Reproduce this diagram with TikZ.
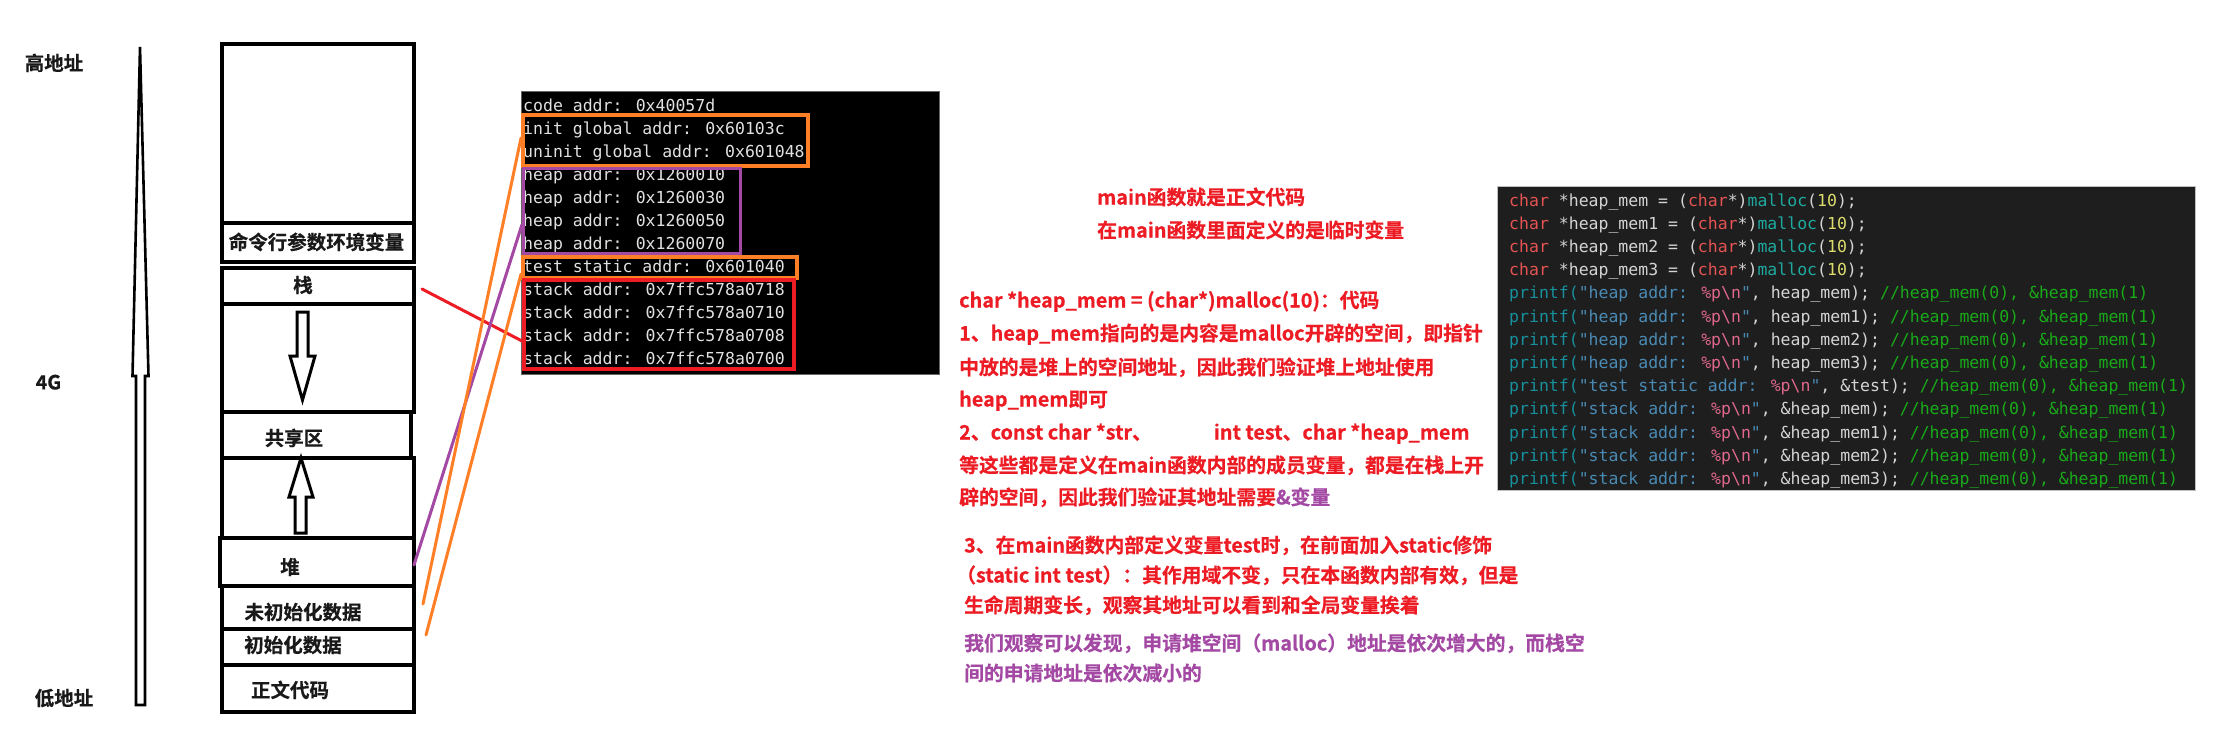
\documentclass[tikz,border=0pt]{standalone}
\usepackage{fontspec}
\newfontfamily\cjkb{Noto Sans CJK SC Bold}[FakeBold=0.5]
\newfontfamily\monof{DejaVu Sans Mono}
\definecolor{tred}{RGB}{237,28,36}
\definecolor{tpurple}{RGB}{163,73,164}
\definecolor{lorange}{RGB}{255,127,39}
\definecolor{labc}{RGB}{25,25,25}
\definecolor{termfg}{RGB}{225,225,225}
\definecolor{codebg}{RGB}{30,30,30}
\definecolor{codefg}{RGB}{212,212,212}
\definecolor{ckw}{RGB}{229,83,83}
\definecolor{cfn}{RGB}{30,170,160}
\definecolor{cnum}{RGB}{220,220,110}
\definecolor{cpf}{RGB}{24,143,156}
\definecolor{cstr}{RGB}{74,139,181}
\definecolor{cfmt}{RGB}{224,104,140}
\definecolor{ccm}{RGB}{25,170,25}
\newcommand\Kw[1]{\textcolor{ckw}{#1}}
\newcommand\Fn[1]{\textcolor{cfn}{#1}}
\newcommand\Nm[1]{\textcolor{cnum}{#1}}
\newcommand\Pf{\textcolor{cpf}{printf(}}
\newcommand\St[1]{\textcolor{cstr}{#1}}
\newcommand\Fm{\textcolor{cfmt}{\%p\textbackslash n}}
\newcommand\Cm{\textcolor{ccm}{//heap\_mem(0), \&heap\_mem(1)}}
\begin{document}
\begin{tikzpicture}[x=1pt,y=-1pt,
  seg/.style={draw=black, line width=4pt, minimum width=192pt, inner sep=0pt, anchor=north west, fill=white},
  lab/.style={font=\cjkb\fontsize{19.5}{22}\selectfont, text=labc, inner sep=0pt, text height=14.8pt, text depth=0pt},
  rtx/.style={font=\cjkb\fontsize{19.8}{24}\selectfont, text=tred, anchor=west, inner sep=0pt, text height=15pt, text depth=0pt},
  ptx/.style={rtx, text=tpurple},
  termln/.style={font=\monof\fontsize{16.5}{20}\selectfont, text=termfg, anchor=west, inner sep=0pt, text height=12pt, text depth=0pt},
  codeln/.style={font=\monof\fontsize{16.5}{20}\selectfont, text=codefg, anchor=west, inner sep=0pt, text height=12pt, text depth=0pt},
  hl/.style={draw=#1, anchor=north west, inner sep=0pt},
  conn/.style={line width=3pt, line cap=round},
  blockarrow/.style={draw=black, line width=3pt, fill=white, line join=miter}]
\useasboundingbox[fill=white] (0,0) rectangle (2231,740);

% ---------- address axis ----------
\draw[blockarrow, line width=2.6pt] (140,47) -- (132.5,376) -- (136,376) -- (136,705) -- (145,705) -- (145,376) -- (148.5,376) -- cycle;
\node[lab] (hiaddr) at (54,63) {高地址};
\node[lab] (fourg) at (48.5,382) {4G};
\node[lab] (loaddr) at (64,698) {低地址};

% ---------- memory layout ----------
\node[seg, minimum height=179pt] (topseg) at (220,41.5) {};
\node[seg, minimum height=39.5pt] (cmdseg) at (220,220.5) {};
\node[seg, minimum height=36pt] (stkseg) at (220,266) {};
\node[seg, minimum height=108pt] (sgap) at (220,302) {};
\node[seg, minimum width=189pt, minimum height=46pt] (shrseg) at (220,410) {};
\node[seg, minimum height=80pt] (hgap) at (220,456) {};
\node[seg, minimum width=194pt, minimum height=48pt] (heapseg) at (218,536) {};
\node[seg, minimum height=43pt] (bssseg) at (220,584) {};
\node[seg, minimum height=36pt] (dataseg) at (220,627) {};
\node[seg, minimum height=47pt] (codeseg) at (220,663) {};

\node[lab] (lcmd) at (316.5,242) {命令行参数环境变量};
\node[lab] (lstk) at (303,285) {栈};
\node[lab] (lshr) at (294,438) {共享区};
\node[lab] (lheap) at (290,567) {堆};
\node[lab] (lbss) at (303,612) {未初始化数据};
\node[lab] (ldata) at (293,645) {初始化数据};
\node[lab] (lcode) at (290,690) {正文代码};

% growth arrows
\draw[blockarrow] (297,312) -- (308,312) -- (308,356) -- (315,356) -- (302.5,400) -- (290,356) -- (297,356) -- cycle;
\draw[blockarrow] (301,458) -- (313,497) -- (306,497) -- (306,533) -- (295,533) -- (295,497) -- (289,497) -- cycle;

% ---------- terminal output ----------
\node[fill=black, draw=black!60, line width=1pt, anchor=north west, minimum width=418pt, minimum height=283pt, inner sep=0pt] (term) at (521,91) {};
\node[termln] (t1) at (523,105) {code addr: 0x40057d};
\node[termln] (t2) at (523,128.05) {init global addr: 0x60103c};
\node[termln] (t3) at (523,151.1) {uninit global addr: 0x601048};
\node[termln] (t4) at (523,174.15) {heap addr: 0x1260010};
\node[termln] (t5) at (523,197.2) {heap addr: 0x1260030};
\node[termln] (t6) at (523,220.25) {heap addr: 0x1260050};
\node[termln] (t7) at (523,243.3) {heap addr: 0x1260070};
\node[termln] (t8) at (523,266.35) {test static addr: 0x601040};
\node[termln] (t9) at (523,289.4) {stack addr: 0x7ffc578a0718};
\node[termln] (t10) at (523,312.45) {stack addr: 0x7ffc578a0710};
\node[termln] (t11) at (523,335.5) {stack addr: 0x7ffc578a0708};
\node[termln] (t12) at (523,358.55) {stack addr: 0x7ffc578a0700};

\node[hl=lorange, line width=4pt, minimum width=285pt, minimum height=51pt] (gbox) at (521,113) {};
\node[hl=tpurple, line width=3pt, minimum width=217pt, minimum height=85pt] (hbox) at (522,167) {};
\node[hl=lorange, line width=4pt, minimum width=274pt, minimum height=21pt] (sbox) at (521,255) {};
\node[hl=tred, line width=4pt, minimum width=270pt, minimum height=89pt] (kbox) at (522,278) {};

% ---------- connectors ----------
\coordinate (pstk) at (422,289);
\coordinate (pheap) at (414,565);
\coordinate (pbss) at (423,604);
\coordinate (pdata) at (426,635);
\draw[conn, tred] (pstk) -- ([yshift=-16.5pt]kbox.west);
\draw[conn, tpurple] (pheap) -- ([yshift=-13.5pt]hbox.west);
\draw[conn, lorange] (pbss) -- ([yshift=2.5pt]gbox.west);
\draw[conn, lorange] (pdata) -- ([yshift=-6.5pt]sbox.west);

% ---------- explanation text ----------
\node[rtx] (m1) at (1097,197) {main函数就是正文代码};
\node[rtx] (m2) at (1097,230) {在main函数里面定义的是临时变量};
\node[rtx] (b1) at (959,300) {char *heap\_mem = (char*)malloc(10)：代码};
\node[rtx] (b2) at (959,333) {1、heap\_mem指向的是内容是malloc开辟的空间，即指针};
\node[rtx] (b3) at (959,367) {中放的是堆上的空间地址，因此我们验证堆上地址使用};
\node[rtx] (b4) at (959,399) {heap\_mem即可};
\node[rtx] (b5) at (959,432) {2、const char *str、\hspace{62pt}int test、char *heap\_mem};
\node[rtx] (b6) at (959,465) {等这些都是定义在main函数内部的成员变量，都是在栈上开};
\node[rtx] (b7) at (959,497) {辟的空间，因此我们验证其地址需要\textcolor{tpurple}{\&变量}};
\node[rtx] (c1) at (964,545) {3、在main函数内部定义变量test时，在前面加入static修饰};
\node[rtx] (c2) at (956,575) {（static int test）：其作用域不变，只在本函数内部有效，但是};
\node[rtx] (c3) at (964,605) {生命周期变长，观察其地址可以看到和全局变量挨着};
\node[ptx] (c4) at (964,643) {我们观察可以发现，申请堆空间（malloc）地址是依次增大的，而栈空};
\node[ptx] (c5) at (964,673) {间的申请地址是依次减小的};

% ---------- source code ----------
\node[fill=codebg, draw=black!25, line width=1pt, anchor=north west, minimum width=698pt, minimum height=304pt, inner sep=0pt] (codebox) at (1497,186) {};
\node[codeln] (cl1) at (1509,200) {\Kw{char} *heap\_mem = (\Kw{char}*)\Fn{malloc}(\Nm{10});};
\node[codeln] (cl2) at (1509,223.2) {\Kw{char} *heap\_mem1 = (\Kw{char}*)\Fn{malloc}(\Nm{10});};
\node[codeln] (cl3) at (1509,246.4) {\Kw{char} *heap\_mem2 = (\Kw{char}*)\Fn{malloc}(\Nm{10});};
\node[codeln] (cl4) at (1509,269.6) {\Kw{char} *heap\_mem3 = (\Kw{char}*)\Fn{malloc}(\Nm{10});};
\node[codeln] (cl5) at (1509,292.8) {\Pf\St{"heap addr: }\Fm\St{"}, heap\_mem); \Cm};
\node[codeln] (cl6) at (1509,316) {\Pf\St{"heap addr: }\Fm\St{"}, heap\_mem1); \Cm};
\node[codeln] (cl7) at (1509,339.2) {\Pf\St{"heap addr: }\Fm\St{"}, heap\_mem2); \Cm};
\node[codeln] (cl8) at (1509,362.4) {\Pf\St{"heap addr: }\Fm\St{"}, heap\_mem3); \Cm};
\node[codeln] (cl9) at (1509,385.6) {\Pf\St{"test static addr: }\Fm\St{"}, \&test); \Cm};
\node[codeln] (cl10) at (1509,408.8) {\Pf\St{"stack addr: }\Fm\St{"}, \&heap\_mem); \Cm};
\node[codeln] (cl11) at (1509,432) {\Pf\St{"stack addr: }\Fm\St{"}, \&heap\_mem1); \Cm};
\node[codeln] (cl12) at (1509,455.2) {\Pf\St{"stack addr: }\Fm\St{"}, \&heap\_mem2); \Cm};
\node[codeln] (cl13) at (1509,478.4) {\Pf\St{"stack addr: }\Fm\St{"}, \&heap\_mem3); \Cm};
\end{tikzpicture}
\end{document}
